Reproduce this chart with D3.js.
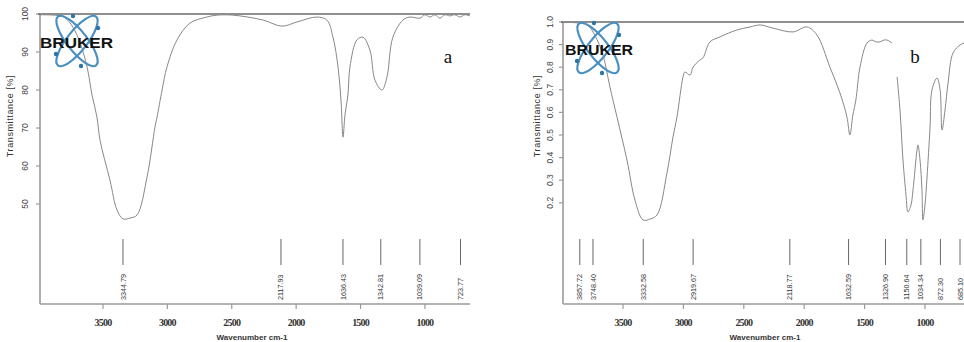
<!DOCTYPE html>
<html><head><meta charset="utf-8">
<script src="https://cdn.jsdelivr.net/npm/d3@7"></script>
<style>html,body{margin:0;padding:0;background:#fff;overflow:hidden}</style>
</head><body>
<svg id="c" width="964" height="342"></svg>
<script>
// ---------- DATA ----------
const xTicks = [3500, 3000, 2500, 2000, 1500, 1000];

// Panel a (Transmittance %)
const aWavenumber = [3990,3850,3795,3733,3679,3624,3585,3547,3523,3446,3391,3345,3290,3236,3158,3096,3080,3041,3003,2925,2825,2693,2615,2491,2256,2110,1994,1839,1761,1714,1675,1652,1636,1621,1598,1582,1528,1481,1427,1388,1334,1295,1249,1171,1117,1039,1000,961,922,884,845,806,767,729,690,651];
const aTransmittance = [99.8,99.6,99.0,96.5,92.5,86.1,78.7,72.9,66.8,56.3,48.4,46.1,46.3,47.1,57.1,70.3,72.9,80,86.1,93.2,97.6,99.2,99.7,99.7,98.4,96.8,97.9,99.2,98.4,93.9,86.1,77.4,67.6,73.4,78.7,86.1,93.2,93.9,90.5,82.6,80,83.4,93.9,98.4,99.2,98.9,99.8,99.2,99.8,98.9,99.8,99.5,99.8,99.2,99.8,99.5];
const aYTicks = [50, 60, 70, 80, 90, 100];
const aYTickLabels = ["50", "60", "70", "80", "90", "100"];
const aPeaks = [3344.79, 2117.93, 1636.43, 1342.81, 1039.09, 723.77];

// Panel b (Transmittance, fraction) - two recorded segments
const bWavenumber1 = [3995,3798,3732,3666,3608,3550,3467,3401,3334,3276,3218,3136,3086,3053,3003,2987,2945,2920,2863,2838,2780,2697,2556,2449,2366,2259,2093,1977,1894,1787,1704,1646,1622,1597,1572,1538,1480,1439,1406,1373,1340,1314,1273];
const bTransmittance1 = [0.998,0.987,0.94,0.854,0.712,0.58,0.389,0.212,0.124,0.128,0.146,0.332,0.491,0.58,0.757,0.779,0.765,0.80,0.832,0.841,0.912,0.934,0.965,0.978,0.987,0.973,0.956,0.978,0.942,0.80,0.686,0.58,0.50,0.588,0.655,0.80,0.907,0.92,0.912,0.912,0.92,0.92,0.907];
const bWavenumber2 = [1231,1207,1182,1157,1141,1116,1099,1066,1058,1041,1025,1017,1000,983,958,942,900,875,859,834,809,768,710,677,627];
const bTransmittance2 = [0.757,0.611,0.389,0.234,0.159,0.19,0.257,0.434,0.456,0.389,0.257,0.124,0.19,0.314,0.535,0.70,0.752,0.70,0.522,0.611,0.73,0.863,0.898,0.907,0.912];
const bYTicks = [0.2, 0.3, 0.4, 0.5, 0.6, 0.7, 0.8, 0.9, 1.0];
const bYTickLabels = ["0.2", "0.3", "0.4", "0.5", "0.6", "0.7", "0.8", "0.9", "1.0"];
const bPeaks = [3857.72, 3748.40, 3332.58, 2919.67, 2118.77, 1632.59, 1326.90, 1150.64, 1034.34, 872.30, 685.10];

// ---------- DRAW ----------
const svg = d3.select("#c");
svg.append("rect").attr("width", 964).attr("height", 342).attr("fill", "#fff");

function panel(cfg) {
  const g = svg.append("g");
  const x = d3.scaleLinear().domain(cfg.xDomain).range(cfg.xRange);
  const y = d3.scaleLinear().domain(cfg.yDomain).range([cfg.top, cfg.bottom]);
  const left = cfg.axisLeft, right = cfg.axisRight;

  // y axis line + ticks
  g.append("line").attr("x1", left).attr("x2", left).attr("y1", cfg.top).attr("y2", cfg.bottom)
    .attr("stroke", "#9a9a9a").attr("stroke-width", 1.6);
  cfg.yTicks.forEach((t, i) => {
    const yy = y(t);
    g.append("line").attr("x1", left - 4).attr("x2", left).attr("y1", yy).attr("y2", yy)
      .attr("stroke", "#9a9a9a").attr("stroke-width", 1.2);
    g.append("text").attr("x", cfg.yLabelX + 3).attr("y", yy)
      .attr("transform", "rotate(-90," + (cfg.yLabelX + 3) + "," + yy + ")")
      .attr("text-anchor", "middle")
      .attr("font-family", "Liberation Sans, Arial, sans-serif").attr("font-size", 8.5)
      .attr("fill", "#444").text(cfg.yTickLabels[i]);
  });
  // y title
  g.append("text").attr("transform", `translate(${cfg.yTitleX},${cfg.yTitleY}) rotate(-90)`)
    .attr("text-anchor", "middle").attr("font-family", "Liberation Sans, Arial, sans-serif")
    .attr("font-size", 9).attr("letter-spacing", 0.6).attr("fill", "#333").text("Transmittance [%]");

  // bottom axis
  g.append("line").attr("x1", left).attr("x2", right).attr("y1", cfg.bottom).attr("y2", cfg.bottom)
    .attr("stroke", "#9a9a9a").attr("stroke-width", 1.6);
  xTicks.forEach(t => {
    const xx = x(t);
    g.append("line").attr("x1", xx).attr("x2", xx).attr("y1", cfg.bottom).attr("y2", cfg.bottom + 5)
      .attr("stroke", "#9a9a9a").attr("stroke-width", 1.2);
    g.append("text").attr("x", xx).attr("y", 326).attr("text-anchor", "middle")
      .attr("font-family", "Liberation Serif, Times New Roman, serif").attr("font-size", 10)
      .attr("font-weight", "bold").attr("letter-spacing", -0.8).attr("fill", "#333").text(t);
  });
  g.append("text").attr("x", cfg.xTitleX).attr("y", 340).attr("text-anchor", "middle")
    .attr("font-family", "Liberation Sans Narrow, Liberation Sans, Arial, sans-serif").attr("font-size", 8)
    .attr("font-weight", "bold").attr("fill", "#333").text("Wavenumber cm-1");

  // top reference line (100%)
  g.append("line").attr("x1", left - 2).attr("x2", right).attr("y1", cfg.top).attr("y2", cfg.top)
    .attr("stroke", "#6a6a6a").attr("stroke-width", 1.4);

  // spectrum
  const line = d3.line().x(d => x(d[0])).y(d => y(d[1])).curve(d3.curveCatmullRom.alpha(0.5));
  cfg.series.forEach(s => {
    g.append("path").datum(s[0].map((w, i) => [w, s[1][i]])).attr("d", line)
      .attr("fill", "none").attr("stroke", "#888").attr("stroke-width", 1);
  });

  // peak labels
  cfg.peaks.forEach(p => {
    const xx = Math.min(x(p), 960);
    g.append("line").attr("x1", xx).attr("x2", xx).attr("y1", 239).attr("y2", 265)
      .attr("stroke", "#666").attr("stroke-width", 1);
    g.append("text").attr("transform", `translate(${xx},300) rotate(-90)`)
      .attr("text-anchor", "start").attr("dy", "0.35em")
      .attr("font-family", "Liberation Sans, Arial, sans-serif").attr("font-size", 7.2)
      .attr("fill", "#333").text(p.toFixed(2));
  });

  // panel letter
  g.append("text").attr("x", cfg.letterX).attr("y", 63).attr("text-anchor", "middle")
    .attr("font-family", "Liberation Serif, Times New Roman, serif").attr("font-size", 19)
    .attr("fill", "#111").text(cfg.letter);

  // Bruker logo
  const lg = g.append("g");
  const c = cfg.logo;
  [52, -52].forEach(a => {
    lg.append("ellipse").attr("cx", c[0]).attr("cy", c[1]).attr("rx", 31).attr("ry", 10)
      .attr("transform", `rotate(${a},${c[0]},${c[1]})`)
      .attr("fill", "none").attr("stroke", "#4a8fc2").attr("stroke-width", 2.2);
  });
  [[-4, -25], [4, 25], [21, -13], [-21, 13]].forEach(d => {
    lg.append("circle").attr("cx", c[0] + d[0]).attr("cy", c[1] + d[1]).attr("r", 2.2).attr("fill", "#2f74a8");
  });
  lg.append("text").attr("x", c[2]).attr("y", c[3]).attr("textLength", c[4]).attr("lengthAdjust", "spacingAndGlyphs")
    .attr("font-family", "Liberation Sans, Arial, sans-serif").attr("font-weight", "bold")
    .attr("font-size", 15).attr("fill", "#111").text("BRUKER");
}

panel({
  xDomain: [4000, 650], xRange: [38.6, 470], yDomain: [100, 23.7], top: 14, bottom: 304,
  axisLeft: 40, axisRight: 470, yLabelX: 25, yTitleX: 13, yTitleY: 116, xTitleX: 252,
  yTicks: aYTicks, yTickLabels: aYTickLabels,
  series: [[aWavenumber, aTransmittance]], peaks: aPeaks,
  letter: "a", letterX: 448, logo: [77, 41, 40, 48, 73]
});
panel({
  xDomain: [4000, 600], xRange: [562.6, 973.3], yDomain: [1.0, -0.248], top: 22, bottom: 304,
  axisLeft: 563, axisRight: 964, yLabelX: 550, yTitleX: 540, yTitleY: 116, xTitleX: 765,
  yTicks: bYTicks, yTickLabels: bYTickLabels,
  series: [[bWavenumber1, bTransmittance1], [bWavenumber2, bTransmittance2]], peaks: bPeaks,
  letter: "b", letterX: 915, logo: [598, 48, 565, 55, 68]
});
</script>
</body></html>
